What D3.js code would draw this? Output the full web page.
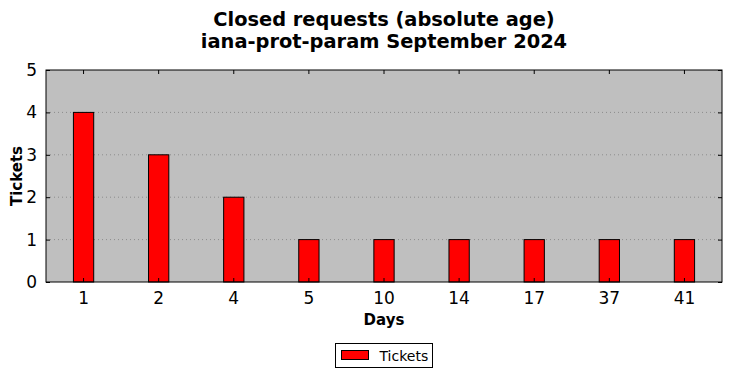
<!DOCTYPE html>
<html>
<head>
<meta charset="utf-8">
<script src="https://cdn.jsdelivr.net/npm/d3@7"></script>
<style>
  body { margin: 0; background: #fff; }
  text { font-family: "DejaVu Sans", sans-serif; }
</style>
</head>
<body>
<div id="chart"></div>
<script>
// values
let days = ["1", "2", "4", "5", "10", "14", "17", "37", "41"];
let tickets = [4, 3, 2, 1, 1, 1, 1, 1, 1];
let yTicks = [0, 1, 2, 3, 4, 5];
let titleLines = ["Closed requests (absolute age)", "iana-prot-param September 2024"];

let w = 732, h = 378;
let m = {left: 46, right: 10, top: 70, bottom: 96};

var svg = d3.select("#chart")
  .append("svg")
  .attr("width", w)
  .attr("height", h);

var x = d3.scaleBand().domain(days).range([m.left, w - m.right]);
var y = d3.scaleLinear().domain([0, 5]).range([h - m.bottom, m.top]);

// plot background
svg.append("rect")
  .attr("x", m.left).attr("y", m.top)
  .attr("width", w - m.left - m.right)
  .attr("height", h - m.top - m.bottom)
  .attr("fill", "#bfbfbf");

// grid
svg.append("g")
  .selectAll("line")
  .data(yTicks.slice(1, -1))
  .join("line")
  .attr("x1", m.left).attr("x2", w - m.right)
  .attr("y1", d => y(d)).attr("y2", d => y(d))
  .attr("stroke", "#8c8c8c")
  .attr("stroke-width", 1)
  .attr("stroke-dasharray", "1,3");

// bars
let bw = x.bandwidth() * 0.27;
svg.append("g")
  .selectAll("rect")
  .data(tickets)
  .join("rect")
  .attr("x", (d, i) => x(days[i]) + x.bandwidth() / 2 - bw / 2)
  .attr("y", d => y(d))
  .attr("width", bw)
  .attr("height", d => y(0) - y(d))
  .attr("fill", "#ff0000")
  .attr("stroke", "#000")
  .attr("stroke-width", 1);

// axes, matplotlib classic style: ticks inward on all sides
let xb = svg.append("g")
  .attr("transform", "translate(0," + (h - m.bottom) + ")")
  .call(d3.axisBottom(x).tickSizeInner(-4).tickSizeOuter(0).tickPadding(10));
let xt = svg.append("g")
  .attr("transform", "translate(0," + m.top + ")")
  .call(d3.axisTop(x).tickSizeInner(-4).tickSizeOuter(0).tickFormat(""));
let yl = svg.append("g")
  .attr("transform", "translate(" + m.left + ",0)")
  .call(d3.axisLeft(y).tickValues(yTicks).tickSizeInner(-4).tickSizeOuter(0).tickPadding(9).tickFormat(d3.format("d")));
let yr = svg.append("g")
  .attr("transform", "translate(" + (w - m.right) + ",0)")
  .call(d3.axisRight(y).tickValues(yTicks).tickSizeInner(-4).tickSizeOuter(0).tickFormat(""));

[xb, xt, yl, yr].forEach(g => {
  g.select(".domain").remove();
  g.selectAll(".tick line").attr("stroke", "#000");
  g.selectAll("text").attr("font-size", 17).attr("fill", "#000")
    .attr("font-family", "DejaVu Sans, sans-serif");
});

// frame
svg.append("rect")
  .attr("x", m.left).attr("y", m.top)
  .attr("width", w - m.left - m.right)
  .attr("height", h - m.top - m.bottom)
  .attr("fill", "none")
  .attr("stroke", "#000")
  .attr("stroke-width", 1);

// titles
let cx = (m.left + w - m.right) / 2;
svg.append("g")
  .selectAll("text")
  .data(titleLines)
  .join("text")
  .attr("x", cx)
  .attr("y", (d, i) => 26 + i * 22)
  .attr("text-anchor", "middle")
  .attr("font-size", 19.4)
  .attr("font-weight", "bold")
  .text(d => d);

svg.append("text")
  .attr("x", cx).attr("y", 325)
  .attr("text-anchor", "middle")
  .attr("font-size", 15)
  .attr("font-weight", "bold")
  .text("Days");

svg.append("text")
  .attr("transform", "translate(22," + ((m.top + h - m.bottom) / 2) + ") rotate(-90)")
  .attr("text-anchor", "middle")
  .attr("font-size", 15)
  .attr("font-weight", "bold")
  .text("Tickets");

// legend
let lg = svg.append("g").attr("transform", "translate(335.5,343.5)");
lg.append("rect").attr("width", 97).attr("height", 24)
  .attr("fill", "#fff").attr("stroke", "#000");
lg.append("rect").attr("x", 6).attr("y", 7).attr("width", 27).attr("height", 9)
  .attr("fill", "#ff0000").attr("stroke", "#000");
lg.append("text").attr("x", 44).attr("y", 17)
  .attr("font-size", 14).text("Tickets");
</script>
</body>
</html>
